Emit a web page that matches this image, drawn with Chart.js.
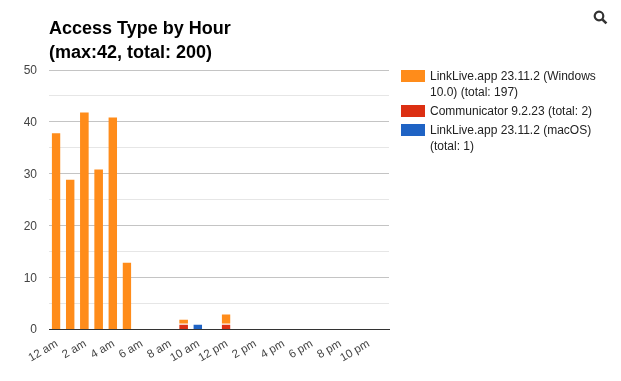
<!DOCTYPE html>
<html><head><meta charset="utf-8">
<script src="https://cdn.jsdelivr.net/npm/chart.js@4"></script>
<style>
html,body{margin:0;padding:0;background:#fff;overflow:hidden}
#wrap{position:relative;width:621px;height:381px;font-family:"Liberation Sans",Arial,sans-serif}
canvas{position:absolute;left:0;top:0}
#title{position:absolute;left:49px;top:16px;font-size:18px;font-weight:bold;line-height:24px;color:#000;white-space:nowrap}
.lg{position:absolute;left:430px;font-size:12px;line-height:15.5px;color:#222;white-space:nowrap}
.sw{position:absolute;left:401px;width:24px;height:12px}
#search{position:absolute;left:593px;top:10px}
</style></head><body>
<div id="wrap">
<canvas id="c" width="621" height="381"></canvas>
<div id="title">Access Type by Hour<br>(max:42, total: 200)</div>
<div id="legend"></div>
<svg id="search" width="15" height="15" viewBox="0 0 15 15"><circle cx="6" cy="6" r="4.3" fill="none" stroke="#333" stroke-width="2.2"/><line x1="9.3" y1="9.3" x2="13.4" y2="13.4" stroke="#333" stroke-width="2.6"/></svg>
</div>
<script>
const hours = ["12 am","1 am","2 am","3 am","4 am","5 am","6 am","7 am","8 am","9 am","10 am","11 am","12 pm","1 pm","2 pm","3 pm","4 pm","5 pm","6 pm","7 pm","8 pm","9 pm","10 pm","11 pm"];
const windowsValues = [38,29,42,31,41,13,0,0,0,1,0,0,2,0,0,0,0,0,0,0,0,0,0,0];
const communicatorValues = [0,0,0,0,0,0,0,0,0,1,0,0,1,0,0,0,0,0,0,0,0,0,0,0];
const macValues = [0,0,0,0,0,0,0,0,0,0,1,0,0,0,0,0,0,0,0,0,0,0,0,0];
const seriesNames = ["LinkLive.app 23.11.2 (Windows 10.0) (total: 197)","Communicator 9.2.23 (total: 2)","LinkLive.app 23.11.2 (macOS) (total: 1)"];
const seriesColors = ["#ff8c1a","#dc2f12","#1f63c4"];
const legendLines = [["LinkLive.app 23.11.2 (Windows","10.0) (total: 197)"],["Communicator 9.2.23 (total: 2)"],["LinkLive.app 23.11.2 (macOS)","(total: 1)"]];
const legendTops = [70,105,124];
const legendTextTops = [69,104,123];

const lg = document.getElementById('legend');
legendLines.forEach((lines,i)=>{
  const s=document.createElement('div');s.className='sw';s.style.top=legendTops[i]+'px';s.style.background=seriesColors[i];lg.appendChild(s);
  const t=document.createElement('div');t.className='lg';t.style.top=legendTextTops[i]+'px';t.innerHTML=lines.join('<br>');lg.appendChild(t);
});

const bar = {stack:'s',barPercentage:0.62,categoryPercentage:1,borderSkipped:false,inflateAmount:0,borderColor:'#fff',borderWidth:c=>c.raw>0?{top:1,left:0,right:0,bottom:0}:0};
new Chart(document.getElementById('c'),{
  type:'bar',
  data:{labels:hours,datasets:[
    {...bar,label:seriesNames[1],data:communicatorValues,backgroundColor:seriesColors[1]},
    {...bar,label:seriesNames[0],data:windowsValues,backgroundColor:seriesColors[0]},
    {...bar,label:seriesNames[2],data:macValues,backgroundColor:seriesColors[2]}
  ]},
  options:{
    responsive:false,animation:false,
    layout:{padding:{top:70,right:232,left:0,bottom:0}},
    plugins:{legend:{display:false},title:{display:false},tooltip:{enabled:false}},
    scales:{
      x:{stacked:true,grid:{display:false},border:{display:true,color:'#333',width:1},
        afterFit(a){a.height=52;},
        ticks:{autoSkip:false,maxRotation:30,minRotation:30,padding:0,labelOffset:1,color:'#444',font:{family:'"Liberation Sans",Arial,sans-serif',size:11.5},
          callback(v,i){return i%2===0?this.getLabelForValue(v):'';}}},
      y:{stacked:true,min:0,max:50,
        afterFit(a){a.width=49;},
        border:{display:false},
        grid:{drawTicks:false,lineWidth:c=>c.tick.value===0?0:1,color(c){const v=c.tick.value;return v%10===0?'#c4c4c4':'#e6e6e6';}},
        ticks:{stepSize:5,padding:12,labelOffset:1,color:'#444',font:{family:'"Liberation Sans",Arial,sans-serif',size:12},
          callback(v){return v%10===0?String(v):'';}}}
    }
  }
});
</script>
</body></html>
